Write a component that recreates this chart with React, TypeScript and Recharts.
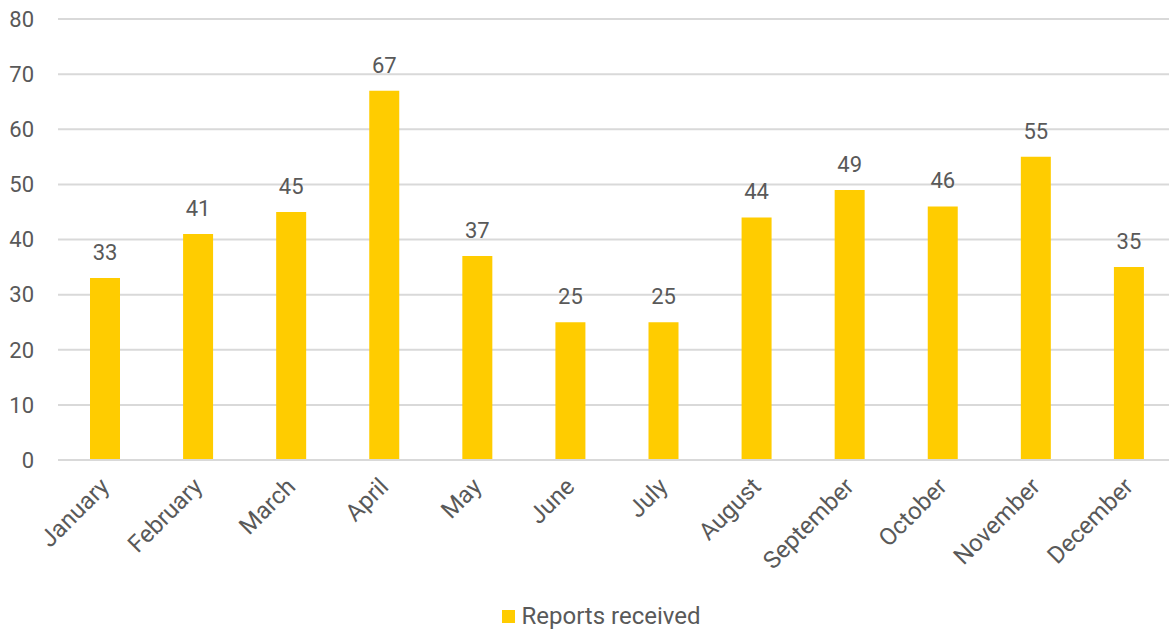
import React from "react";
import { BarChart, Bar, XAxis, YAxis, CartesianGrid, Legend, LabelList } from "recharts";

const months = ["January", "February", "March", "April", "May", "June", "July", "August", "September", "October", "November", "December"];
const reports = [33, 41, 45, 67, 37, 25, 25, 44, 49, 46, 55, 35];
const yTicks = [0, 10, 20, 30, 40, 50, 60, 70, 80];
const seriesName = "Reports received";

const data = months.map((m, i) => ({ month: m, reports: reports[i] }));

const TEXT = "#595959";
const FONT = "Roboto, sans-serif";
const BAR = "#ffcc00";

const LegendContent = () => (
  <div style={{ display: "flex", justifyContent: "center", alignItems: "center", fontFamily: FONT, fontSize: 24, color: TEXT, lineHeight: "28px" }}>
    <span style={{ display: "inline-block", width: 13, height: 13, background: BAR, marginRight: 6 }} />
    <span>{seriesName}</span>
  </div>
);

const MonthTick = (props: any) => {
  const { x, y, payload } = props;
  return (
    <g transform={`translate(${x - 6},${y})`}>
      <text transform="rotate(-45)" textAnchor="end" dy="0.71em" fill={TEXT} fontSize={24} fontFamily={FONT}>
        {payload.value}
      </text>
    </g>
  );
};

export default function App() {
  return (
    <div style={{ position: "absolute", left: 0, top: 0, width: 1169, height: 631, background: "#fff", fontFamily: FONT, overflow: "hidden" }}>
      <BarChart width={1169} height={631} data={data} margin={{ top: 19, right: -6, left: 0, bottom: 0 }} style={{ overflow: "visible" }}>
        <CartesianGrid vertical={false} stroke="#d9d9d9" strokeWidth={2} />
        <XAxis
          dataKey="month"
          axisLine={{ stroke: "#d9d9d9", strokeWidth: 2 }}
          tickLine={false}
          interval={0}
          height={130}
          tick={<MonthTick />}
          tickMargin={10}
        />
        <YAxis
          domain={[0, 80]}
          ticks={yTicks}
          axisLine={false}
          tickLine={false}
          width={58}
          tickSize={0}
          tickMargin={24}
          tick={{ fill: TEXT, fontSize: 22, fontFamily: FONT }}
        />
        <Legend
          verticalAlign="bottom"
          height={41}
          content={<LegendContent />}
          wrapperStyle={{ position: "absolute", left: 0, width: 1203, top: 602 }}
        />
        <Bar dataKey="reports" name={seriesName} fill={BAR} barSize={30} isAnimationActive={false}>
          <LabelList dataKey="reports" position="top" offset={18} fill={TEXT} fontSize={22} fontFamily={FONT} />
        </Bar>
      </BarChart>
    </div>
  );
}
